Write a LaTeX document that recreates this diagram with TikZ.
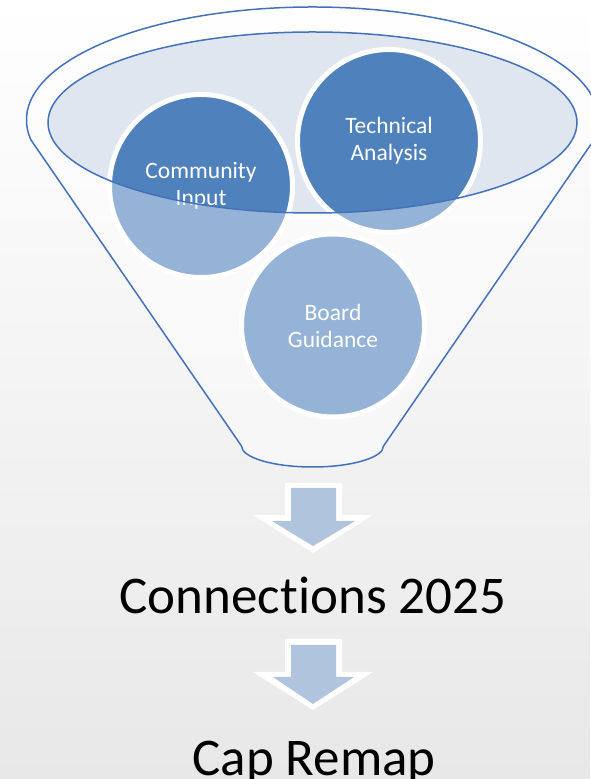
\documentclass[tikz,border=0pt]{standalone}
\usepackage{fontspec}
\setmainfont{Carlito}[Ligatures={NoCommon,NoContextual}]
\begin{document}
\begin{tikzpicture}[x=1pt,y=1pt,
  funnelline/.style={draw={rgb,255:red,68;green,114;blue,186}, line width=1.5pt},
  bubble/.style={circle, minimum size=183pt, inner sep=0pt, draw=white, line width=5pt,
    fill={rgb,255:red,79;green,129;blue,189}, text=white, align=center,
    font=\fontsize{23.5}{27}\selectfont},
  arrowrim/.style={fill=white},
  arrowbody/.style={fill={rgb,255:red,176;green,196;blue,222}},
  bigtext/.style={inner sep=0pt, anchor=base, text=black, font=\fontsize{53}{60}\selectfont}]
\useasboundingbox (0,0) rectangle (590,779);
% soft grey backdrop
\shade[top color=white, bottom color={rgb,255:red,232;green,232;blue,232}] (0,0) rectangle (590,779);
\begin{scope}[yshift=779pt, yscale=-1]
  % funnel mouth
  \fill[fill={rgb,255:red,224;green,230;blue,240}] (312.5,122.5) ellipse [x radius=264.5, y radius=90.5];
  % the three inputs
  \node[bubble] (community) at (201,186) {Community\\Input};
  \node[bubble] (technical) at (389,141) {Technical\\Analysis};
  \node[bubble] (board) at (333,325.5) {Board\\Guidance};
  % translucent funnel body over the inputs, mouth left open
  \fill[white, fill opacity=0.4, even odd rule]
    (31,140) arc[start angle=169.8, end angle=370.2, x radius=286, y radius=113]
    -- (383.5,446) arc[start angle=0, end angle=180, x radius=71, y radius=21] -- cycle
    (312.5,122.5) ellipse [x radius=264.5, y radius=90.5];
  % funnel outlines
  \path[funnelline, line join=round]
    (31,140) arc[start angle=169.8, end angle=370.2, x radius=286, y radius=113]
    -- (383.5,446) arc[start angle=0, end angle=180, x radius=71, y radius=21] -- cycle;
  \path[funnelline] (312.5,122.5) ellipse [x radius=264.5, y radius=90.5];
  % downward block arrows
  \fill[arrowrim] (285,483) -- (342,483) -- (342,515) -- (373,515) -- (313,553) -- (253,515) -- (285,515) -- cycle;
  \fill[arrowbody] (291,488) -- (336,488) -- (336,521) -- (355,521) -- (313,546) -- (272,521) -- (291,521) -- cycle;
  \fill[arrowrim] (285,639) -- (342,639) -- (342,672) -- (373,672) -- (313,710) -- (253,672) -- (285,672) -- cycle;
  \fill[arrowbody] (291,645) -- (336,645) -- (336,677) -- (354,677) -- (313,704) -- (273,677) -- (291,677) -- cycle;
  % outcomes
  \node[bigtext] (connections) at (313,614) {Connections 2025};
  \node[bigtext] (capremap) at (314,775) {Cap Remap};
\end{scope}
\end{tikzpicture}
\end{document}
